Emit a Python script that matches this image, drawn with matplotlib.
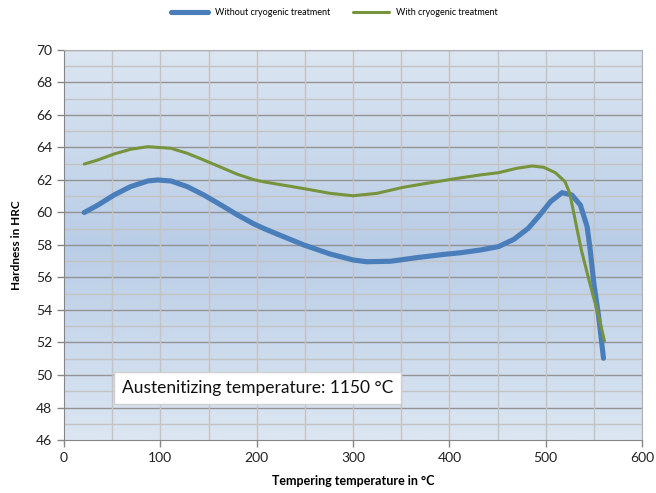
import numpy as np
import matplotlib
matplotlib.use("Agg")
from matplotlib import pyplot as plt
from matplotlib.colors import LinearSegmentedColormap

plt.rcParams['font.family'] = ['Lato', 'DejaVu Sans']

# data (Excel smoothed lines, so read densely)
temp_without = [21, 35, 52, 69, 87, 97, 111, 128, 145, 163, 180, 197, 208,
                221, 249, 276, 300, 314, 339, 366, 394, 411, 432, 451, 467,
                482, 494, 505, 517, 527, 536, 543, 546, 550, 555, 560]
hrc_without = [60.0, 60.45, 61.08, 61.59, 61.94, 62.0, 61.94, 61.59, 61.08, 60.46,
               59.85, 59.3, 59.0, 58.68, 58.0, 57.45, 57.08, 56.97, 57.0, 57.22,
               57.42, 57.52, 57.69, 57.9, 58.35, 59.03, 59.85, 60.67, 61.22, 61.08,
               60.46, 59.13, 57.8, 55.64, 53.59, 51.03]

temp_with = [21, 35, 52, 69, 87, 111, 128, 145, 163, 180, 197, 208, 221, 249,
             276, 300, 325, 352, 380, 408, 432, 451, 470, 486, 498, 510, 520,
             525, 532, 537, 546, 555, 561]
hrc_with = [62.98, 63.23, 63.6, 63.89, 64.05, 63.95, 63.64, 63.23, 62.78, 62.35,
            62.02, 61.88, 61.75, 61.47, 61.18, 61.03, 61.18, 61.55, 61.83, 62.1,
            62.31, 62.45, 62.72, 62.86, 62.78, 62.45, 61.9, 61.18, 59.13, 57.69,
            55.6, 53.6, 52.1]

x_ticks = [0, 100, 200, 300, 400, 500, 600]
y_ticks = list(range(46, 71, 2))

blue = '#4a7ebb'
green = '#77933c'

fig = plt.figure(figsize=(6.56, 4.93), dpi=100)
ax = fig.add_axes([0.0976, 0.1075, 0.8811, 0.7911])

# gradient background (light at edges, darker blue in the middle)
cmap = LinearSegmentedColormap.from_list('bg', ['#dce6f2', '#b9cde6', '#dce6f2'])
grad = np.linspace(0, 1, 256).reshape(-1, 1)
ax.imshow(grad, aspect='auto', cmap=cmap, extent=[0, 1, 0, 1],
          transform=ax.transAxes, zorder=0)

ax.set_xlim(0, 600)
ax.set_ylim(46, 70)

# grid
for y in range(47, 70, 2):
    ax.axhline(y, color='#c3c3c3', lw=1.0, zorder=1)
for y in range(48, 71, 2):
    ax.axhline(y, color='#939393', lw=1.0, zorder=1)
for x in range(50, 601, 50):
    ax.axvline(x, color='#c3c3c3', lw=1.0, zorder=1)

ax.plot(temp_without, hrc_without, color=blue, lw=3.7, solid_capstyle='round',
        solid_joinstyle='round', zorder=3, label='Without cryogenic treatment')
ax.plot(temp_with, hrc_with, color=green, lw=2.2, solid_capstyle='round',
        solid_joinstyle='round', zorder=4, label='With cryogenic treatment')

ax.set_xticks(x_ticks)
ax.set_yticks(y_ticks)
ax.tick_params(axis='both', labelsize=10, colors='#868686', length=5,
               width=1, direction='out')
ax.tick_params(axis='both', labelcolor='#222222')

for side in ['left', 'bottom']:
    ax.spines[side].set_color('#868686')
for side in ['top', 'right']:
    ax.spines[side].set_color('#b0b0b0')

ax.set_xlabel('Tempering temperature in °C', fontsize=9, fontweight='bold', labelpad=8)
ax.set_ylabel('Hardness in HRC', fontsize=8.5, fontweight='bold', labelpad=10)

ax.text(60, 49.2, 'Austenitizing temperature: 1150 °C', fontsize=12.5,
        va='center', ha='left', color='#111111', zorder=5,
        bbox=dict(facecolor='white', edgecolor='#d0d0d0', boxstyle='square,pad=0.45'))

fig.legend(loc='upper center', bbox_to_anchor=(0.51, 1.0), ncol=2, frameon=False,
           fontsize=6.5, handlelength=4, columnspacing=2.5, handletextpad=0.8)

fig.savefig('out.png', dpi=100)
